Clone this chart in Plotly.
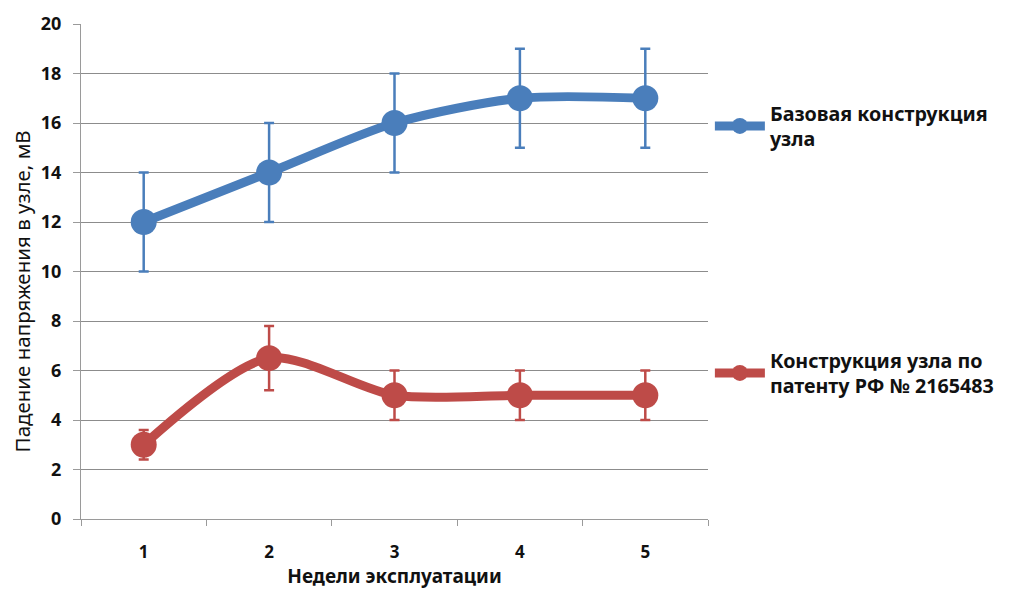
import plotly.graph_objects as go

weeks = ["1", "2", "3", "4", "5"]
base_values = [12, 14, 16, 17, 17]
base_err = [2, 2, 2, 2, 2]
patent_values = [3, 6.5, 5, 5, 5]
patent_err = [0.6, 1.3, 1, 1, 1]

base_name = "Базовая конструкция<br>узла"
patent_name = "Конструкция узла по<br>патенту РФ № 2165483"
y_title = "Падение напряжения в узле, мВ"
x_title = "Недели эксплуатации"
y_ticks = list(range(0, 21, 2))

BLUE = "#4A7EBB"
RED = "#BE4B48"
FONT = "Noto Sans, DejaVu Sans, sans-serif"

fig = go.Figure()
fig.add_trace(go.Scatter(
    x=weeks, y=base_values, name=base_name, mode="lines+markers",
    line=dict(color=BLUE, width=9, shape="spline", smoothing=0.8),
    marker=dict(color=BLUE, size=26),
    error_y=dict(type="data", array=base_err, color=BLUE, thickness=2.5, width=5),
    legend="legend",
))
fig.add_trace(go.Scatter(
    x=weeks, y=patent_values, name=patent_name, mode="lines+markers",
    line=dict(color=RED, width=9, shape="spline", smoothing=0.8),
    marker=dict(color=RED, size=26),
    error_y=dict(type="data", array=patent_err, color=RED, thickness=2.5, width=5),
    legend="legend2",
))

legend_common = dict(
    font=dict(family=FONT, size=19.7, color="#111111", weight="bold"),
    bgcolor="rgba(0,0,0,0)", itemwidth=50, xanchor="left", yanchor="top",
)
fig.update_layout(
    width=1003, height=581,
    margin=dict(l=73, r=303, t=16, b=70, autoexpand=False),
    paper_bgcolor="white", plot_bgcolor="white",
    font=dict(family=FONT, color="#111111"),
    legend=dict(x=1.003, y=0.859, **legend_common),
    legend2=dict(x=1.003, y=0.36, **legend_common),
    showlegend=True,
    annotations=[dict(
        text=y_title, xref="paper", yref="paper", x=-0.0935, y=0.4606,
        xanchor="center", yanchor="middle", textangle=-90, showarrow=False,
        font=dict(family=FONT, size=20.5, color="#111111"), borderpad=0,
    )],
)
fig.update_xaxes(
    type="category", range=[-0.5, 4.5], automargin=False,
    showline=True, linecolor="#9a9a9a", linewidth=1,
    ticks="outside", tickson="boundaries", ticklen=6, tickcolor="#9a9a9a",
    showgrid=False,
    tickfont=dict(family=FONT, size=17, color="#111111", weight="bold"),
    ticklabelstandoff=18,
    title=dict(text=x_title, font=dict(family=FONT, size=19, color="#111111", weight="bold"), standoff=8),
)
fig.update_yaxes(
    range=[0, 20], tickvals=y_ticks, ticktext=[str(v) for v in y_ticks],
    automargin=False,
    showline=True, linecolor="#9a9a9a", linewidth=1,
    ticks="outside", ticklen=7, tickcolor="#9a9a9a",
    showgrid=True, gridcolor="#8c8c8c", gridwidth=1,
    zeroline=False,
    tickfont=dict(family=FONT, size=18, color="#111111", weight="bold"),
    ticklabelstandoff=8,
)

fig.write_html("out.html")
